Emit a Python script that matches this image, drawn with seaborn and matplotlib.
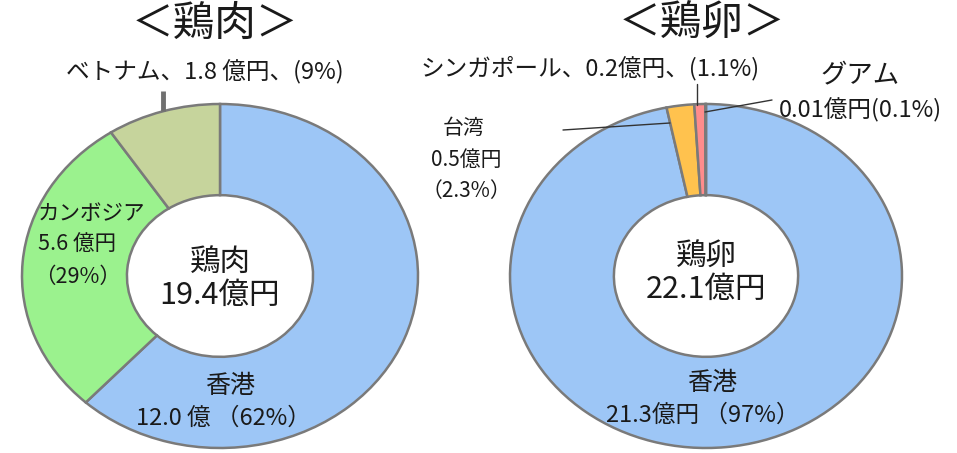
import matplotlib
matplotlib.use("Agg")
import matplotlib.pyplot as plt
import seaborn as sns

# Setup
sns.set_theme(style="white")
plt.rcParams['font.family'] = ['Noto Sans CJK JP', 'DejaVu Sans']

# Data: chicken meat (鶏肉)
meat_names = ["香港", "カンボジア", "ベトナム"]
meat_values = [12.0, 5.6, 1.8]
meat_colors = ["#9DC6F6", "#9BF28E", "#C6D49C"]
meat_total = "19.4億円"

# Data: eggs (鶏卵)
egg_names = ["香港", "台湾", "シンガポール", "グアム"]
egg_values = [21.3, 0.5, 0.2, 0.01]
egg_colors = ["#9DC6F6", "#FFC24E", "#FF8C8C", "#8C8C8C"]
egg_total = "22.1億円"

W, H = 957, 453
fig = plt.figure(figsize=(W / 100, H / 100), dpi=100)
fig.patch.set_facecolor("white")

EDGE = "#7A7A7A"


def donut(cx, cy, rx, ry, values, colors):
    # axes box = bounding box of the ellipse (pixel coords, y from top)
    ax = fig.add_axes([(cx - rx) / W, 1 - (cy + ry) / H, 2 * rx / W, 2 * ry / H])
    wedges, _ = ax.pie(values, colors=colors, startangle=90, counterclock=False,
                       radius=1, wedgeprops=dict(width=0.53, edgecolor=EDGE,
                                                 linewidth=1.8))
    for w in wedges:
        w.set_clip_on(False)
    ax.set_aspect('auto')
    ax.set_xlim(-1, 1)
    ax.set_ylim(-1, 1)
    ax.axis('off')
    return ax


donut(220, 276, 198, 172, meat_values, meat_colors)
donut(706, 276, 196, 172, egg_values, egg_colors)

# overlay axes in pixel coordinates for labels
ov = fig.add_axes([0, 0, 1, 1], zorder=5)
ov.set_xlim(0, W)
ov.set_ylim(H, 0)
ov.axis('off')
ov.patch.set_alpha(0)

TXT = "#1a1a1a"

# titles
ov.text(215, 36, "＜鶏肉＞", ha='center', va='baseline', fontsize=30, color=TXT)
ov.text(702, 36, "＜鶏卵＞", ha='center', va='baseline', fontsize=30, color=TXT)

# centre totals
ov.text(220, 262, "鶏肉", ha='center', va='center', fontsize=22, color=TXT)
ov.text(220, 295, meat_total, ha='center', va='center', fontsize=22, color=TXT)
ov.text(706, 257, "鶏卵", ha='center', va='center', fontsize=22, color=TXT)
ov.text(706, 289, egg_total, ha='center', va='center', fontsize=22, color=TXT)

# meat labels
ov.text(205, 72, f"{meat_names[2]}、{meat_values[2]} 億円、(9%)", ha='center',
        va='center', fontsize=17, color=TXT)
ov.plot([163, 163], [91, 111], color="#707070", lw=3.5, solid_capstyle='butt')
ov.text(38, 214, meat_names[1], ha='left', va='center', fontsize=15.5, color=TXT)
ov.text(38, 245, f"{meat_values[1]} 億円", ha='left', va='center', fontsize=15.5, color=TXT)
ov.text(34, 277, "（29%）", ha='left', va='center', fontsize=15.5, color=TXT)
ov.text(230, 386, meat_names[0], ha='center', va='center', fontsize=18, color=TXT)
ov.text(223, 418, f"{meat_values[0]} 億 （62%）", ha='center', va='center',
        fontsize=17, color=TXT)

# egg labels
ov.text(590, 68, f"{egg_names[2]}、{egg_values[2]}億円、(1.1%)", ha='center',
        va='center', fontsize=17, color=TXT)
ov.plot([697, 697], [84, 105], color="#333333", lw=1)
ov.text(860, 76, egg_names[3], ha='center', va='center', fontsize=19, color=TXT)
ov.text(860, 110, f"{egg_values[3]}億円({0.1}%)", ha='center', va='center',
        fontsize=17, color=TXT)
ov.plot([705, 772], [112, 100], color="#333333", lw=1)
ov.text(464, 128, egg_names[1], ha='center', va='center', fontsize=15, color=TXT)
ov.text(466, 160, f"{egg_values[1]}億円", ha='center', va='center', fontsize=15, color=TXT)
ov.text(466, 191, "（2.3%）", ha='center', va='center', fontsize=15, color=TXT)
ov.plot([563, 670], [130, 123], color="#333333", lw=1)
ov.text(712, 383, egg_names[0], ha='center', va='center', fontsize=18, color=TXT)
ov.text(703, 415, f"{egg_values[0]}億円 （97%）", ha='center', va='center',
        fontsize=17, color=TXT)

fig.savefig("out.png", dpi=100)
